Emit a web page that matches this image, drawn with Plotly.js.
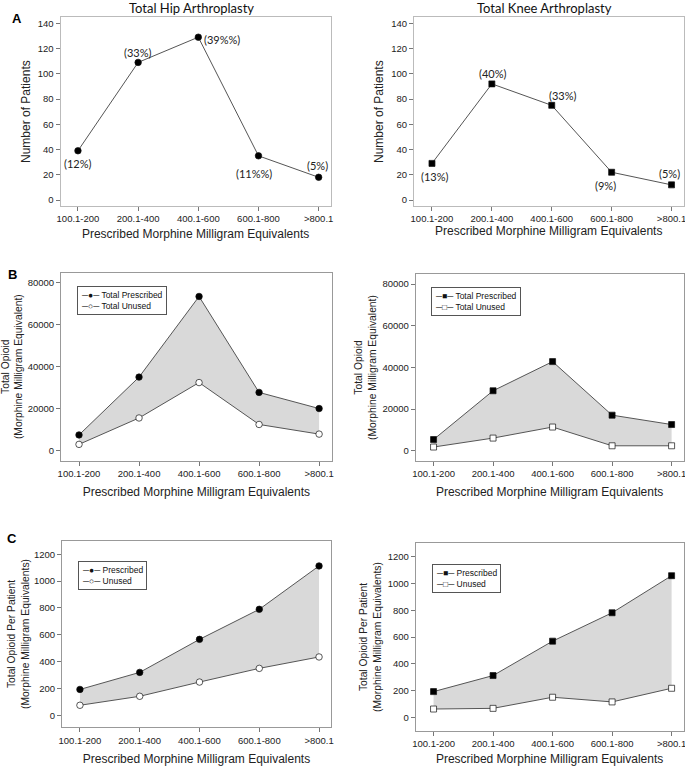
<!DOCTYPE html>
<html><head><meta charset="utf-8">
<script src="https://cdn.plot.ly/plotly-3.0.1.min.js"></script>
<style>html,body{margin:0;padding:0;background:#fff}#chart{width:685px;height:766px}</style>
</head><body><div id="chart"></div>
<script>
// ---------- data ----------
const categories = ['100.1-200', '200.1-400', '400.1-600', '600.1-800', '>800.1'];

const hipPatients = [39, 109, 129, 35, 18];
const hipPatientPct = ['(12%)', '(33%)', '(39%%)', '(11%%)', '(5%)'];
const kneePatients = [29, 92, 75, 22, 12];
const kneePatientPct = ['(13%)', '(40%)', '(33%)', '(9%)', '(5%)'];

const hipTotalPrescribed = [7400, 35000, 73500, 27700, 20000];
const hipTotalUnused = [2900, 15500, 32400, 12400, 7800];
const kneeTotalPrescribed = [5400, 28800, 42800, 17100, 12600];
const kneeTotalUnused = [1800, 6100, 11400, 2400, 2400];

const hipPerPatientPrescribed = [193, 320, 566, 790, 1113];
const hipPerPatientUnused = [75, 142, 248, 350, 435];
const kneePerPatientPrescribed = [192, 312, 569, 781, 1058];
const kneePerPatientUnused = [62, 67, 150, 115, 217];

const panelTitles = ['Total Hip Arthroplasty', 'Total Knee Arthroplasty'];
const panelLetters = ['A', 'B', 'C'];
const xTitle = 'Prescribed Morphine Milligram Equivalents';
const yTitles = ['Number of Patients',
  'Total Opioid<br>(Morphine Milligram Equivalent)',
  'Total Opioid Per Patient<br>(Morphine Milligram Equivalents)'];
const legendTotal = ['Total Prescribed', 'Total Unused'];
const legendPer = ['Prescribed', 'Unused'];

// ---------- styling / layout helpers ----------
const W = 685, H = 766;
const FONT = 'Liberation Sans, Arial, sans-serif';
const TFONT = 'Lato, Carlito, Calibri, sans-serif';
const xd = (a, b) => [a / W, b / W];
const yd = (top, bottom) => [1 - bottom / H, 1 - top / H];
const LINE = '#555';
const FILL = '#d9d9d9';
const TICKSIZE = 9.5;
const TITLESIZE = 12;

function xAxis(domain, anchor, range, boxColor, standoff) {
  return {
    domain, anchor, type: 'category', range,
    showline: true, mirror: true, linecolor: boxColor, linewidth: 1,
    ticks: 'outside', ticklen: 4, tickcolor: '#777', tickwidth: 1,
    tickfont: {family: FONT, size: TICKSIZE, color: '#222'},
    showgrid: false, zeroline: false, automargin: false, fixedrange: true,
    title: {text: xTitle, font: {family: FONT, size: TITLESIZE, color: '#222'}, standoff}
  };
}
function yAxis(domain, anchor, range, dtick, boxColor, title, titleSize, standoff) {
  return {
    domain, anchor, range, dtick, tick0: 0, tickformat: 'd',
    showline: true, mirror: true, linecolor: boxColor, linewidth: 1,
    ticks: 'outside', ticklen: 4, tickcolor: '#777', tickwidth: 1,
    tickfont: {family: FONT, size: TICKSIZE, color: '#222'},
    showgrid: false, zeroline: false, automargin: false, fixedrange: true,
    title: {text: title, font: {family: FONT, size: titleSize, color: '#222'}, standoff}
  };
}

function marker(symbol, filled) {
  return {symbol, size: symbol === 'circle' ? 6.5 : 6,
    color: filled ? '#000' : '#fff', line: {color: '#111', width: 0.7}};
}

const traces = [];
// Panel A
traces.push({x: categories, y: hipPatients, xaxis: 'x', yaxis: 'y', mode: 'lines+markers',
  line: {color: LINE, width: 1}, marker: marker('circle', true), showlegend: false});
traces.push({x: categories, y: kneePatients, xaxis: 'x2', yaxis: 'y2', mode: 'lines+markers',
  line: {color: LINE, width: 1}, marker: marker('square', true), showlegend: false});

function pair(unused, prescribed, xa, ya, sym) {
  traces.push({x: categories, y: unused, xaxis: xa, yaxis: ya, mode: 'lines+markers',
    line: {color: LINE, width: 1}, marker: marker(sym, false), showlegend: false});
  traces.push({x: categories, y: prescribed, xaxis: xa, yaxis: ya, mode: 'lines+markers',
    fill: 'tonexty', fillcolor: FILL,
    line: {color: LINE, width: 1}, marker: marker(sym, true), showlegend: false});
}
pair(hipTotalUnused, hipTotalPrescribed, 'x3', 'y3', 'circle');
pair(kneeTotalUnused, kneeTotalPrescribed, 'x4', 'y4', 'square');
pair(hipPerPatientUnused, hipPerPatientPrescribed, 'x5', 'y5', 'circle');
pair(kneePerPatientUnused, kneePerPatientPrescribed, 'x6', 'y6', 'square');

// ---------- annotations ----------
const ann = [];
ann.push({xref: 'paper', yref: 'paper', x: 191 / W, y: 1 - 7.5 / H, xanchor: 'center', yanchor: 'middle',
  text: panelTitles[0], showarrow: false, font: {family: TFONT, size: 13, color: '#111'}});
ann.push({xref: 'paper', yref: 'paper', x: 544 / W, y: 1 - 7.5 / H, xanchor: 'center', yanchor: 'middle',
  text: panelTitles[1], showarrow: false, font: {family: TFONT, size: 13, color: '#111'}});
const letterPos = [[17, 18], [12, 275], [12, 538]];
panelLetters.forEach((L, i) => ann.push({xref: 'paper', yref: 'paper',
  x: letterPos[i][0] / W, y: 1 - letterPos[i][1] / H, xanchor: 'center', yanchor: 'middle',
  text: '<b>' + L + '</b>', showarrow: false, font: {family: FONT, size: 13, color: '#000'}}));

const hipShift = [[0, -13], [0, 10], [24, -2], [-4, -18], [-1, 12]];
const kneeShift = [[3, -13], [1, 10], [11, 10], [-6, -13], [-2, 11]];
categories.forEach((c, i) => {
  ann.push({xref: 'x', yref: 'y', x: c, y: hipPatients[i], text: hipPatientPct[i], showarrow: false,
    xshift: hipShift[i][0], yshift: hipShift[i][1], font: {family: TFONT, size: 11, color: '#222'}});
  ann.push({xref: 'x2', yref: 'y2', x: c, y: kneePatients[i], text: kneePatientPct[i], showarrow: false,
    xshift: kneeShift[i][0], yshift: kneeShift[i][1], font: {family: TFONT, size: 11, color: '#222'}});
});

function legendBox(px, py, labels, filledSym, openSym) {
  ann.push({xref: 'paper', yref: 'paper', x: px / W, y: 1 - py / H, xanchor: 'left', yanchor: 'top',
    align: 'left', showarrow: false,
    text: '─' + filledSym + '─ ' + labels[0] + '<br>─' + openSym + '─ ' + labels[1],
    font: {family: FONT, size: 8.5, color: '#111'},
    bordercolor: '#555', borderwidth: 1, borderpad: 3, bgcolor: '#fff'});
}
legendBox(77, 286, legendTotal, '●', '○');
legendBox(431, 287.5, legendTotal, '■', '□');
legendBox(78, 561, legendPer, '●', '○');
legendBox(432, 564, legendPer, '■', '□');

const layout = {
  width: W, height: H, margin: {l: 0, r: 0, t: 0, b: 0},
  paper_bgcolor: '#fff', plot_bgcolor: '#fff', showlegend: false,
  xaxis: xAxis(xd(60.5, 330.7), 'y', [-0.29, 4.2], '#bbb', 6),
  yaxis: yAxis(yd(17.3, 206), 'x', [-4.75, 144.75], 20, '#bbb', yTitles[0], 12, 4),
  xaxis2: xAxis(xd(414, 683.5), 'y2', [-0.3, 4.2], '#bbb', 1),
  yaxis2: yAxis(yd(17.3, 206), 'x2', [-4.75, 144.75], 20, '#bbb', yTitles[0], 12, 5),
  xaxis3: xAxis(xd(61, 331.7), 'y3', [-0.3, 4.21], '#999', 9),
  yaxis3: yAxis(yd(272.7, 460.7), 'x3', [-4900, 84850], 20000, '#999', yTitles[1], 10.3, 6),
  xaxis4: xAxis(xd(415.7, 683.5), 'y4', [-0.3, 4.2], '#999', 9),
  yaxis4: yAxis(yd(274, 461), 'x4', [-4900, 84850], 20000, '#999', yTitles[1], 10.3, 3.5),
  xaxis5: xAxis(xd(62, 331), 'y5', [-0.3, 4.2], '#999', 12),
  yaxis5: yAxis(yd(540.7, 727.3), 'x5', [-89, 1301], 200, '#999', yTitles[2], 10.3, 2),
  xaxis6: xAxis(xd(415.7, 683.5), 'y6', [-0.3, 4.2], '#999', 11),
  yaxis6: yAxis(yd(543.3, 730.7), 'x6', [-100, 1300], 200, '#999', yTitles[2], 10.3, 4),
  annotations: ann
};

Plotly.newPlot('chart', traces, layout, {staticPlot: true, displayModeBar: false});
</script>
</body></html>
